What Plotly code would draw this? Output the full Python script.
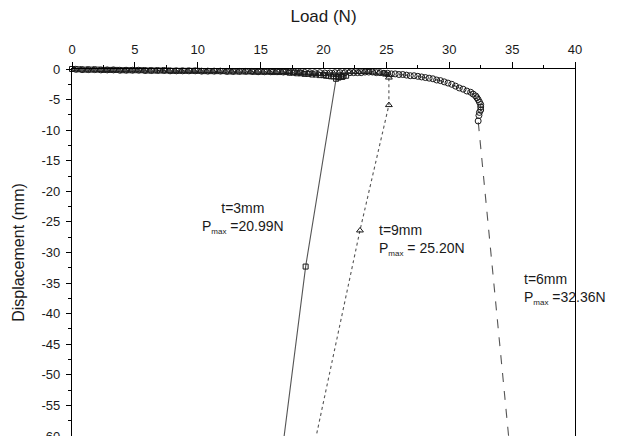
import plotly.graph_objects as go

# ---- data ----
# t = 3 mm (solid line, open squares)
t3_flat_load = [0, 0.5, 1, 1.5, 2, 2.5, 3, 3.5, 4, 4.5, 5, 5.5, 6, 6.5, 7, 7.5, 8, 8.5, 9, 9.5,
                10, 10.5, 11, 11.5, 12, 12.5, 13, 13.5, 14, 14.5, 15, 15.5, 16, 16.5, 17]
t3_flat_disp = [0, -0.05, -0.1, -0.1, -0.1, -0.15, -0.15, -0.15, -0.2, -0.2, -0.2, -0.2, -0.25, -0.25, -0.25,
                -0.25, -0.3, -0.3, -0.3, -0.3, -0.3, -0.35, -0.35, -0.35, -0.35, -0.4, -0.4, -0.4, -0.4,
                -0.45, -0.45, -0.45, -0.5, -0.5, -0.5]
t3_peak_load = [17.3, 17.6, 17.9, 18.2, 18.5, 18.8, 19.1, 19.4, 19.7, 20.0, 20.2, 20.4, 20.6, 20.8, 20.99,
                21.2, 21.4, 21.6, 21.8, 21.5, 21.2]
t3_peak_disp = [-0.6, -0.6, -0.7, -0.7, -0.8, -0.8, -0.9, -0.9, -1.0, -1.0, -1.1, -1.1, -1.2, -1.2, -1.2,
                -1.3, -1.2, -1.1, -1.1, -1.3, -1.4]
t3_drop_load = [21.0, 18.58, 16.5]
t3_drop_disp = [-1.6, -32.3, -66]

# t = 9 mm (dotted line, open triangles)
t9_flat_load = [0.2, 0.7, 1.2, 1.7, 2.2, 2.7, 3.2, 3.7, 4.2, 4.7, 5.2, 5.7, 6.2, 6.7, 7.2, 7.7, 8.2,
                8.7, 9.2, 9.7, 10.2, 10.7, 11.2, 11.7, 12.2, 12.7, 13.2, 13.7, 14.2, 14.7, 15.2, 15.7,
                16.2, 16.7]
t9_flat_disp = [-0.05, -0.1, -0.1, -0.1, -0.15, -0.15, -0.15, -0.2, -0.2, -0.2, -0.2, -0.25, -0.25, -0.25,
                -0.25, -0.3, -0.3, -0.3, -0.3, -0.3, -0.35, -0.35, -0.35, -0.35, -0.4, -0.4, -0.4, -0.4,
                -0.45, -0.45, -0.45, -0.5, -0.5, -0.5]
t9_peak_load = [17.2, 17.6, 18.0, 18.4, 18.8, 19.2, 19.6, 20.0, 20.4, 20.8, 21.2, 21.6, 22.0, 22.4,
                22.8, 23.2, 23.6, 24.0, 24.4, 24.8, 25.0, 25.2, 25.2]
t9_peak_disp = [-0.5, -0.6, -0.6, -0.7, -0.7, -0.8, -0.8, -0.8, -0.7, -0.7, -0.6, -0.6, -0.5, -0.5,
                -0.5, -0.5, -0.5, -0.6, -0.6, -0.7, -0.8, -1.0, -1.4]
t9_drop_load = [25.2, 22.9, 18.8]
t9_drop_disp = [-5.9, -26.4, -66]

# t = 6 mm (dashed line, open circles)
t6_flat_load = [0.3, 0.8, 1.3, 1.8, 2.3, 2.8, 3.3, 3.8, 4.3, 4.8, 5.3, 5.8, 6.3, 6.8, 7.3, 7.8, 8.3,
                8.8, 9.3, 9.8, 10.3, 10.8, 11.3, 11.8, 12.3, 12.8, 13.3, 13.8, 14.3, 14.8, 15.3, 15.8,
                16.3, 16.8]
t6_flat_disp = [-0.05, -0.1, -0.1, -0.1, -0.15, -0.15, -0.15, -0.2, -0.2, -0.2, -0.2, -0.25, -0.25, -0.25,
                -0.25, -0.3, -0.3, -0.3, -0.3, -0.3, -0.35, -0.35, -0.35, -0.35, -0.4, -0.4, -0.4, -0.4,
                -0.4, -0.45, -0.45, -0.45, -0.45, -0.5]
t6_mid_load = [17.3, 17.7, 18.1, 18.5, 18.9, 19.3, 19.7, 20.1, 20.5, 20.9, 21.3, 21.7, 22.1]
t6_mid_disp = [-0.5, -0.5, -0.55, -0.55, -0.6, -0.6, -0.6, -0.65, -0.65, -0.6, -0.6, -0.6, -0.6]
t6_curve_load = [22.4, 22.7, 23.0, 23.3, 23.6, 23.9, 24.2, 24.5, 24.8, 25.1, 25.4, 25.7, 26.0, 26.3,
                 26.6, 26.9, 27.2, 27.5, 27.8, 28.1, 28.4, 28.7, 29.0, 29.3, 29.6, 29.9, 30.2, 30.5,
                 30.8, 31.1, 31.4, 31.7, 31.9, 32.1, 32.2, 32.3, 32.4, 32.5, 32.5, 32.5, 32.4, 32.36,
                 32.3]
t6_curve_disp = [-0.6, -0.6, -0.6, -0.5, -0.5, -0.5, -0.6, -0.6, -0.7, -0.7, -0.8, -0.8, -0.9, -0.9,
                 -1.0, -1.1, -1.1, -1.2, -1.3, -1.4, -1.5, -1.6, -1.8, -1.9, -2.1, -2.3, -2.5, -2.8,
                 -3.1, -3.3, -3.6, -3.8, -4.1, -4.4, -4.7, -5.0, -5.4, -5.8, -6.2, -6.7, -7.1, -7.6,
                 -8.5]
t6_drop_load = [35.0]
t6_drop_disp = [-66]

x_ticks = [0, 5, 10, 15, 20, 25, 30, 35, 40]
y_ticks = [0, -5, -10, -15, -20, -25, -30, -35, -40, -45, -50, -55, -60]

t3_load = t3_flat_load + t3_peak_load + t3_drop_load
t3_disp = t3_flat_disp + t3_peak_disp + t3_drop_disp
t9_load = t9_flat_load + t9_peak_load + t9_drop_load
t9_disp = t9_flat_disp + t9_peak_disp + t9_drop_disp
t6_load = t6_flat_load + t6_mid_load + t6_curve_load + t6_drop_load
t6_disp = t6_flat_disp + t6_mid_disp + t6_curve_disp + t6_drop_disp
assert len(t3_load) == len(t3_disp) and len(t9_load) == len(t9_disp) and len(t6_load) == len(t6_disp)

LINE = "#555555"
MK = "#1a1a1a"

fig = go.Figure()
fig.add_trace(go.Scatter(x=t3_load, y=t3_disp, mode="lines+markers", cliponaxis=False,
                         line=dict(color=LINE, width=1.1, dash="solid"),
                         marker=dict(symbol="square-open", size=5, color=MK, line=dict(width=1))))
fig.add_trace(go.Scatter(x=t9_load, y=t9_disp, mode="lines+markers", cliponaxis=False,
                         line=dict(color=LINE, width=1.1, dash="dot"),
                         marker=dict(symbol="triangle-up-open", size=6, color=MK, line=dict(width=1))))
fig.add_trace(go.Scatter(x=t6_load, y=t6_disp, mode="lines+markers", cliponaxis=False,
                         line=dict(color=LINE, width=1.1, dash="dash"),
                         marker=dict(symbol="circle-open", size=6, color=MK, line=dict(width=1))))

ann_font = dict(family="Liberation Sans, Arial", size=14, color="#1a1a1a")
SUB = "<sub><span style='font-size:8px'>max</span></sub>"
fig.add_annotation(x=13.6, y=-24.4, xanchor="center", yanchor="middle", showarrow=False, align="center",
                   text="t=3mm<br>P" + SUB + " =20.99N", font=ann_font)
fig.add_annotation(x=24.25, y=-28.0, xanchor="left", yanchor="middle", showarrow=False, align="left",
                   text="t=9mm<br>P" + SUB + " = 25.20N", font=ann_font)
fig.add_annotation(x=35.8, y=-36.0, xanchor="left", yanchor="middle", showarrow=False, align="left",
                   text="t=6mm<br>P" + SUB + " =32.36N", font=ann_font)

fig.update_layout(
    width=619, height=436,
    margin=dict(l=72, r=44, t=69, b=0, autoexpand=False),
    paper_bgcolor="white", plot_bgcolor="white",
    showlegend=False,
    font=dict(family="Liberation Sans, Arial", size=13, color="#1a1a1a"),
    xaxis=dict(side="top", range=[0, 40], tickvals=x_ticks, ticktext=[str(v) for v in x_ticks],
               ticklabelstandoff=3,
               showgrid=False, zeroline=False, showline=True, linecolor="black", linewidth=1.3,
               ticks="outside", ticklen=6, tickwidth=1.2, tickcolor="black",
               minor=dict(ticks="outside", ticklen=3, dtick=2.5, tick0=0, tickcolor="black", showgrid=False),
               title=dict(text="Load (N)", font=dict(size=17), standoff=14), automargin=False),
    yaxis=dict(range=[-60, 0], tickvals=y_ticks, ticktext=[str(v) for v in y_ticks],
               ticklabeloverflow="allow", ticklabelstandoff=3,
               showgrid=False, zeroline=False, showline=True, mirror=True, linecolor="black", linewidth=1.3,
               ticks="outside", ticklen=5, tickwidth=1.2, tickcolor="black",
               minor=dict(ticks="outside", ticklen=3, dtick=2.5, tick0=0, tickcolor="black", showgrid=False),
               title=dict(text="Displacement (mm)", font=dict(size=16), standoff=12), automargin=False),
)

fig.write_html("out.html")
